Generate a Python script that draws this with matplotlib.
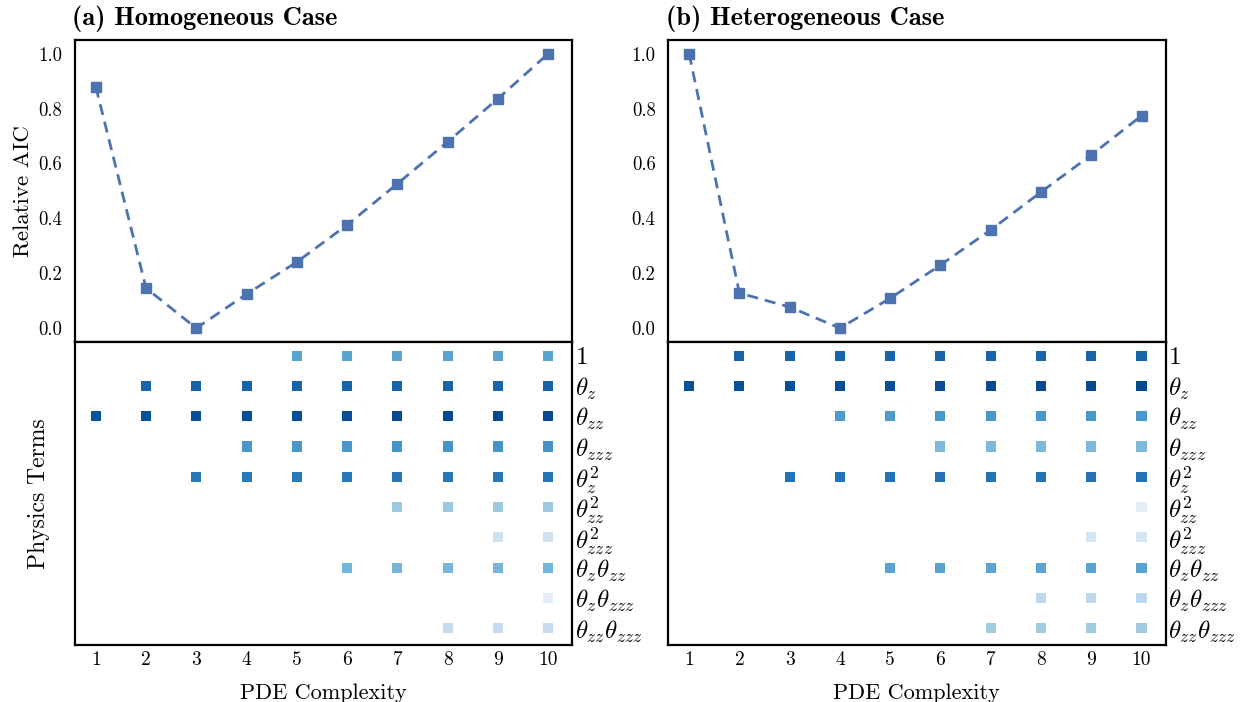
import numpy as np
import matplotlib.pyplot as plt
from matplotlib import cm

plt.rcParams['font.family'] = ['cmr10', 'DejaVu Serif']
plt.rcParams['mathtext.fontset'] = 'cm'
plt.rcParams['axes.unicode_minus'] = False

complexity = np.arange(1, 11)

aic_homog = [0.88, 0.146, 0.0, 0.124, 0.241, 0.376, 0.526, 0.679, 0.836, 1.0]
aic_heter = [1.0, 0.128, 0.077, 0.0, 0.109, 0.230, 0.358, 0.496, 0.631, 0.774]

terms = [r'$1$', r'$\theta_z$', r'$\theta_{zz}$', r'$\theta_{zzz}$', r'$\theta_z^2$',
         r'$\theta_{zz}^2$', r'$\theta_{zzz}^2$', r'$\theta_z\theta_{zz}$',
         r'$\theta_z\theta_{zzz}$', r'$\theta_{zz}\theta_{zzz}$']

# coefficient shade per term (rows) and complexity (cols), 0 = term not selected
terms_homog = [
    [0, 0, 0, 0, .55, .55, .55, .55, .55, .55],
    [0, .80, .80, .80, .80, .80, .80, .80, .80, .80],
    [.87, .88, .88, .89, .89, .89, .90, .90, .90, .90],
    [0, 0, 0, .60, .60, .60, .61, .61, .61, .62],
    [0, 0, .72, .72, .72, .72, .73, .73, .73, .73],
    [0, 0, 0, 0, 0, 0, .38, .38, .38, .38],
    [0, 0, 0, 0, 0, 0, 0, 0, .20, .20],
    [0, 0, 0, 0, 0, .47, .47, .47, .47, .47],
    [0, 0, 0, 0, 0, 0, 0, 0, 0, .10],
    [0, 0, 0, 0, 0, 0, 0, .25, .25, .25],
]
terms_heter = [
    [0, .80, .80, .80, .80, .80, .80, .80, .80, .80],
    [.88, .88, .88, .89, .89, .89, .90, .90, .90, .90],
    [0, 0, 0, .58, .58, .60, .60, .60, .60, .60],
    [0, 0, 0, 0, 0, .45, .45, .45, .45, .45],
    [0, 0, .74, .74, .74, .74, .74, .74, .74, .74],
    [0, 0, 0, 0, 0, 0, 0, 0, 0, .10],
    [0, 0, 0, 0, 0, 0, 0, 0, .18, .18],
    [0, 0, 0, 0, .55, .55, .55, .55, .55, .55],
    [0, 0, 0, 0, 0, 0, 0, .27, .27, .27],
    [0, 0, 0, 0, 0, 0, .37, .37, .37, .37],
]

titles = ['(a) Homogeneous Case', '(b) Heterogeneous Case']

fig = plt.figure(figsize=(12.44, 7.02), dpi=100)
lefts = [0.060, 0.537]
w = 0.400

for k, (aic, mat, title) in enumerate(zip([aic_homog, aic_heter],
                                          [terms_homog, terms_heter], titles)):
    ax = fig.add_axes([lefts[k], 0.513, w, 0.430])
    ax.plot(complexity, aic, '--s', color='#4C72B0', lw=2, ms=7, dashes=(4, 2.5))
    ax.set_xlim(0.58, 10.48)
    ax.set_ylim(-0.05, 1.05)
    ax.set_xticks([])
    ax.set_yticks([0.0, 0.2, 0.4, 0.6, 0.8, 1.0])
    ax.tick_params(axis='y', length=0, labelsize=13.5, pad=9)
    ax.set_title(title, loc='left', fontsize=19, pad=11, family='cmb10', x=-0.005)
    if k == 0:
        ax.set_ylabel('Relative AIC', fontsize=16.5, labelpad=4)
    for s in ax.spines.values():
        s.set_linewidth(1.6)
        s.set_color('black')

    bx = fig.add_axes([lefts[k], 0.081, w, 0.432])
    mat = np.array(mat)
    rows, cols = np.nonzero(mat)
    bx.scatter(complexity[cols], rows, c=cm.Blues(mat[rows, cols]),
               marker='s', s=52, linewidths=0)
    bx.set_xlim(0.58, 10.48)
    bx.set_ylim(9.55, -0.45)
    bx.set_xticks(complexity)
    bx.set_yticks(np.arange(len(terms)))
    bx.set_yticklabels(terms)
    bx.yaxis.tick_right()
    bx.tick_params(axis='y', length=0, labelsize=18, pad=2)
    bx.tick_params(axis='x', length=0, labelsize=14, pad=4)
    bx.set_xlabel('PDE Complexity', fontsize=16, labelpad=11)
    if k == 0:
        bx.set_ylabel('Physics Terms', fontsize=17, labelpad=18)
    for s in bx.spines.values():
        s.set_linewidth(1.6)
        s.set_color('black')

plt.savefig('out.png', dpi=100)
